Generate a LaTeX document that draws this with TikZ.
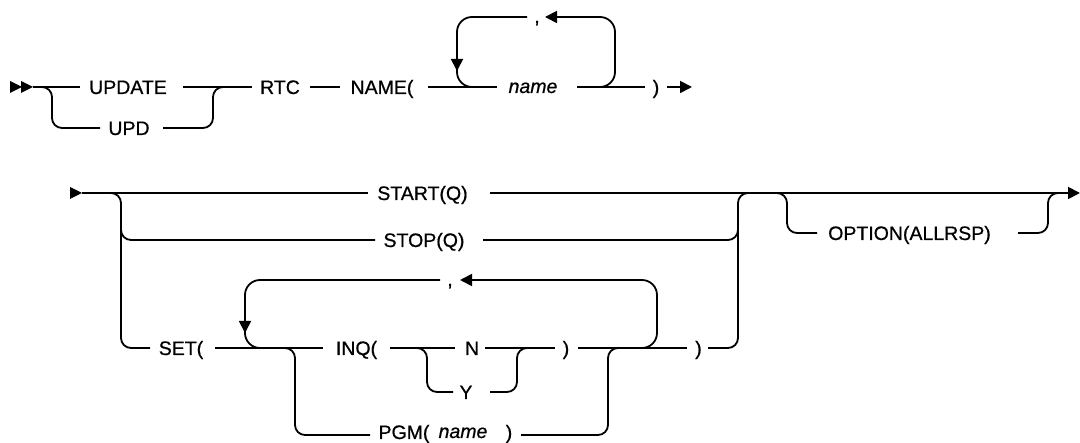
\documentclass[tikz,border=0pt]{standalone}
\usepackage{fontspec}
\setmainfont{Liberation Sans}
\newfontfamily\diagfont{Liberation Sans}[FakeBold=0.7]
\usetikzlibrary{arrows.meta}
\begin{document}
\begin{tikzpicture}[x=1pt,y=-1pt,line width=1.8pt,
  rr/.style={rounded corners=10pt},
  lp/.style={rounded corners=15pt},
  lbl/.style={anchor=base,inner sep=0pt,font=\diagfont\fontsize{19.5}{22}\selectfont},
  itl/.style={lbl,font=\diagfont\fontsize{19.5}{22}\selectfont\itshape},
  tip/.style={-{Triangle[length=12pt,width=12pt]}}]
\useasboundingbox (0,0) rectangle (1080,443);

% ---- row 1 labels
\node[lbl] (update) at (128,94) {UPDATE};
\node[lbl] (upd) at (129,135) {UPD};
\node[lbl] (rtc) at (280,94) {RTC};
\node[lbl] (namekw) at (382,94) {NAME(};
\node[lbl] (comma1) at (537,23) {,};
\node[itl] (name1) at (533,93) {name};
\node[lbl] (rp1) at (656,94) {)};

% ---- row 1 lines
\fill (10,81) -- (22,87) -- (10,93) -- cycle;
\fill (21,81) -- (33,87) -- (21,93) -- cycle;
\draw (33,87) -- (80,87);
\draw[rr] (40,87) -| (52,128) -- (100,128);
\draw (183,87) -- (252,87);
\draw[rr] (163,128) -| (213,87) -- (226,87);
\draw (310,87) -- (340,87);
\draw (428,87) -- (497,87);
\draw (577,87) -- (645,87);
\draw[lp,tip] (597,87) -| (615,17) -- (545,17);
\draw[lp,tip] (527,17) -| (457,71);
\draw[lp] (457,65) -- (457,87) -- (478,87);
\draw[tip] (667,87) -- (692,87);

% ---- row 2 labels
\node[lbl] (start) at (422.5,200) {START(Q)};
\node[lbl] (stop) at (424,247) {STOP(Q)};
\node[lbl] (set) at (181,355) {SET(};
\node[lbl] (comma2) at (450,286) {,};
\node[lbl] (inq) at (356.5,355) {INQ(};
\node[lbl] (n) at (472,355) {N};
\node[lbl] (y) at (466,399) {Y};
\node[lbl] (rp2) at (566,355) {)};
\node[lbl] (rp3) at (698.5,355) {)};
\node[lbl] (pgm) at (404,439) {PGM(};
\node[itl] (pgmname) at (463,438) {name};
\node[lbl] (pgmrp) at (509,439) {)};
\node[lbl] (option) at (909.5,240) {OPTION(ALLRSP)};

% ---- row 2 lines
\fill (70,187) -- (82,193) -- (70,199) -- cycle;
\draw (82,193) -- (368,193);
\draw[tip] (490,193) -- (1080,193);
\draw[rr] (110,193) -| (121,348) -- (150,348);
\draw[rr] (121,220) |- (375,240);
\draw[rr] (483,240) -| (738,215);
\draw[rr] (708,348) -| (738,193) -- (752,193);
\draw (215,348) -- (323,348);
\draw[lp,tip] (638,348) -| (657,280) -- (460,280);
\draw[lp,tip] (440,280) -| (245,333);
\draw[lp] (245,320) -- (245,348) -- (265,348);
\draw[rr] (283,348) -| (295,435) -- (370,435);
\draw[rr] (521,435) -| (608,348) -- (620,348);
\draw (390,348) -- (455,348);
\draw (485,348) -- (555,348);
\draw[rr] (418,348) -| (427,392) -- (453,392);
\draw[rr] (490,392) -| (517,348) -- (527,348);
\draw (578,348) -- (687,348);
\draw[rr] (776,193) -| (787,233) -- (817,233);
\draw[rr] (1018,233) -| (1048,193) -- (1060,193);
\end{tikzpicture}
\end{document}
